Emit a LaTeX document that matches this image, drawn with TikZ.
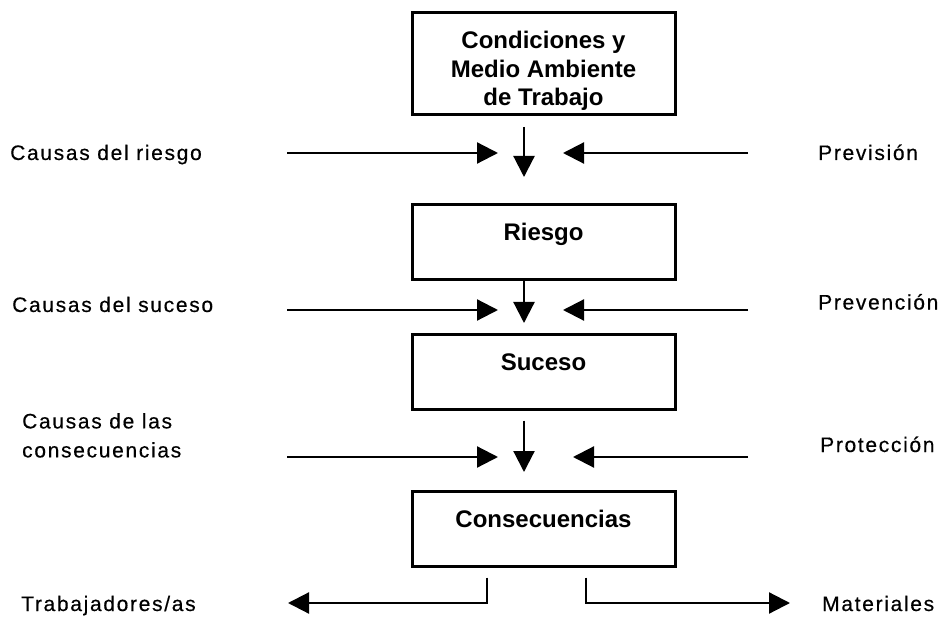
\documentclass[tikz,border=0pt]{standalone}
\usepackage{fontspec}
\setmainfont{Liberation Sans}
\newfontfamily\lblfont{Liberation Sans}[LetterSpace=8,FakeBold=0.4]
\usetikzlibrary{arrows.meta}
\begin{document}
\begin{tikzpicture}
		[x=1pt,y=-1pt,
		box/.style={draw,line width=3pt,minimum width=263pt,inner sep=0pt,
align=center,font=\bfseries\fontsize{24}{28.5}\selectfont},
		onebox/.style={box,minimum height=75pt,text height=17pt,text depth=21pt},
		lbl/.style={anchor=base west,inner sep=0pt,align=left,
font=\lblfont\fontsize{21}{29}\selectfont},
		arrowstyle/.style={-{Triangle[length=21pt,width=21pt]},line width=2.2pt}]
		\useasboundingbox (0,0) rectangle (944,617);
		% boxes
		\node at (543.5,64) (cond) [box,minimum height=102pt] {\rule{0pt}{31pt}Condiciones y\\Medio Ambiente\\de Trabajo};
		\node at (543.5,242.5) (riesgo) [onebox] {Riesgo};
		\node at (543.5,372) (suceso) [onebox] {Suceso};
		\node at (543.5,529) (conse) [onebox] {Consecuencias};
		% labels
		\node at (10,160) (causriesgo) [lbl] {Causas del riesgo};
		\node at (12,312) (caussuceso) [lbl] {Causas del suceso};
		\node at (22,413) (causconse) [lbl,anchor=north west] {Causas de las\\consecuencias};
		\node at (21,611) (trab) [lbl] {Trabajadores/as};
		\node at (818,160) (prevision) [lbl] {Previsión};
		\node at (818,309.5) (prevencion) [lbl] {Prevención};
		\node at (820,452) (proteccion) [lbl] {Protección};
		\node at (822,611) (mat) [lbl] {Materiales};
		% arrow ends
		\coordinate (v1) at (524,177);
		\coordinate (v2) at (524,323);
		\coordinate (v3) at (524,472);
		\coordinate (a1) at (287,153);
		\coordinate (b1) at (498,153);
		\coordinate (c1) at (748,153);
		\coordinate (d1) at (563,153);
		\coordinate (a2) at (287,310);
		\coordinate (b2) at (498,310);
		\coordinate (c2) at (748,310);
		\coordinate (d2) at (563,310);
		\coordinate (a3) at (287,457);
		\coordinate (b3) at (498,457);
		\coordinate (c3) at (748,457);
		\coordinate (d3) at (573,457);
		\coordinate (e1) at (487,603);
		\coordinate (e2) at (586,603);
		\coordinate (f1) at (288,603);
		\coordinate (f2) at (790,603);
		% arrows
		\draw [arrowstyle,shorten <=10.5pt] (cond.south -| v1) -- (v1);
		\draw [arrowstyle] (riesgo.south -| v2) -- (v2);
		\draw [arrowstyle,shorten <=9.5pt] (suceso.south -| v3) -- (v3);
		\draw [arrowstyle] (a1) -- (b1);
		\draw [arrowstyle] (c1) -- (d1);
		\draw [arrowstyle] (a2) -- (b2);
		\draw [arrowstyle] (c2) -- (d2);
		\draw [arrowstyle] (a3) -- (b3);
		\draw [arrowstyle] (c3) -- (d3);
		\draw [arrowstyle,shorten <=9.5pt] (conse.south -| e1) |- (f1);
		\draw [arrowstyle,shorten <=9.5pt] (conse.south -| e2) |- (f2);
	\end{tikzpicture}
\end{document}
